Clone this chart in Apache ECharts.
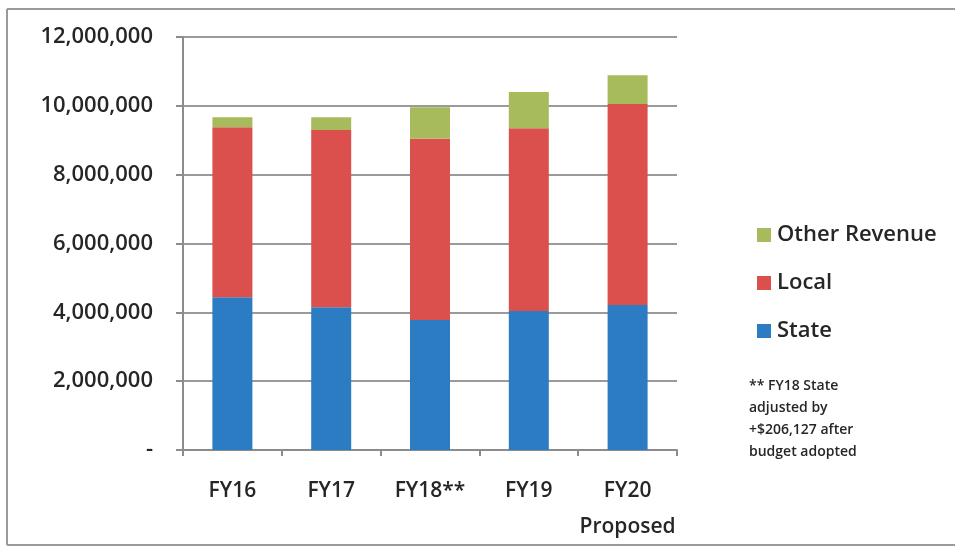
<!DOCTYPE html>
<html>
<head>
<meta charset="utf-8">
<script src="https://cdn.jsdelivr.net/npm/echarts@6/dist/echarts.min.js"></script>
<style>
  html, body { margin: 0; padding: 0; background: #fff; }
  #chart { width: 955px; height: 548px; }
</style>
</head>
<body>
<div id="chart"></div>
<script>
// Revenue by fiscal year, stacked by source
const categories = ['FY16', 'FY17', 'FY18**', 'FY19', 'FY20\nProposed'];
const stateValues = [4440000, 4150000, 3780000, 4040000, 4210000];
const localValues = [4940000, 5150000, 5260000, 5310000, 5840000];
const otherValues = [290000, 370000, 920000, 1050000, 840000];
const yTicks = [0, 2000000, 4000000, 6000000, 8000000, 10000000, 12000000];
const noteLines = ['** FY18 State', 'adjusted by', '+$206,127 after', 'budget adopted'];

const FONT = '"Open Sans", Lato, sans-serif';
const TEXT = '#262626';

const chart = echarts.init(document.getElementById('chart'), null, { renderer: 'canvas' });

function barSeries(name, data, color) {
  return {
    name: name,
    type: 'bar',
    stack: 'total',
    data: data,
    barWidth: 40,
    itemStyle: { color: color },
    emphasis: { disabled: true }
  };
}

chart.setOption({
  animation: false,
  backgroundColor: '#fff',
  grid: { left: 183, right: 278, top: 37, bottom: 98, containLabel: false },
  legend: {
    orient: 'vertical',
    left: 752,
    top: 219,
    itemGap: 26,
    itemWidth: 14,
    itemHeight: 14,
    icon: 'rect',
    data: ['Other Revenue', 'Local', 'State'],
    textStyle: { fontFamily: FONT, fontSize: 22, fontWeight: 600, color: TEXT, padding: [0, 0, 0, 1] }
  },
  xAxis: {
    type: 'category',
    data: categories,
    axisLine: { show: true, lineStyle: { color: '#8c8c8c', width: 2 } },
    axisTick: { show: true, length: 6, lineStyle: { color: '#8c8c8c', width: 2 } },
    axisLabel: {
      interval: 0,
      fontFamily: FONT, fontSize: 21, fontWeight: 600, color: TEXT, margin: 23, lineHeight: 36
    }
  },
  yAxis: {
    type: 'value',
    min: 0,
    max: 12000000,
    interval: 2000000,
    axisLine: { show: true, lineStyle: { color: '#8c8c8c', width: 2 } },
    axisTick: { show: true, length: 7, lineStyle: { color: '#8c8c8c', width: 2 } },
    splitLine: { show: true, lineStyle: { color: '#9a9a9a', width: 2 } },
    axisLabel: {
      fontFamily: FONT, fontSize: 22, fontWeight: 600, color: TEXT, margin: 30,
      formatter: function (v) {
        if (!yTicks.includes(v)) return '';
        return v === 0 ? '-' : v.toLocaleString('en-US');
      }
    }
  },
  series: [
    barSeries('State', stateValues, '#2b7cc2'),
    barSeries('Local', localValues, '#db4f4c'),
    barSeries('Other Revenue', otherValues, '#a8bb5c')
  ],
  graphic: [
    {
      type: 'text',
      left: 749,
      top: 375,
      style: {
        text: noteLines.join('\n'),
        font: '600 14px ' + FONT,
        lineHeight: 22,
        fill: TEXT
      }
    },
    // page frame
    { type: 'line', shape: { x1: 7, y1: 9, x2: 955, y2: 9 }, style: { stroke: '#9a9a9a', lineWidth: 2 } },
    { type: 'line', shape: { x1: 7, y1: 9, x2: 7, y2: 545 }, style: { stroke: '#9a9a9a', lineWidth: 2 } },
    { type: 'line', shape: { x1: 7, y1: 545, x2: 955, y2: 545 }, style: { stroke: '#9a9a9a', lineWidth: 2 } }
  ]
});
</script>
</body>
</html>
